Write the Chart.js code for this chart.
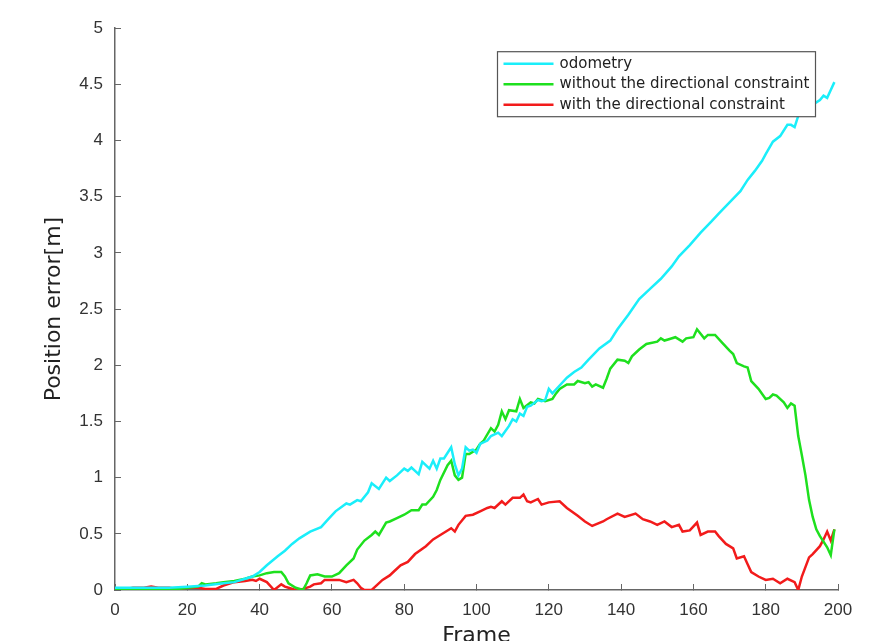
<!DOCTYPE html>
<html>
<head>
<meta charset="utf-8">
<script src="https://cdn.jsdelivr.net/npm/chart.js@4.4.0/dist/chart.umd.min.js"></script>
<style>
  body { margin: 0; background: #fff; }
  canvas { display: block; }
</style>
</head>
<body>
<canvas id="errChart" width="896" height="641"></canvas>
<script>
// values
const seriesNames = ['odometry', 'without the directional constraint', 'with the directional constraint'];

const odomFrames = [0, 5, 10, 15, 20, 25, 30, 33, 36, 38, 40, 42, 45, 47, 49, 51, 54, 57, 59, 61, 64, 65, 67, 68, 70, 71, 73, 75, 76, 78, 80, 81, 82, 83, 84, 85, 87, 88, 89, 90, 91, 93, 94, 95, 96, 97, 98, 99, 100, 101, 103, 104, 106, 107, 109, 110, 111, 112, 113, 114, 115, 117, 118, 119, 120, 121, 123, 125, 127, 129, 131, 134, 137, 139, 142, 145, 148, 151, 154, 156, 159, 162, 165, 167, 170, 173, 175, 177, 179, 180, 182, 184, 186, 187, 188, 189, 191, 193, 194, 195, 196, 197, 198, 199];
const odomErr = [0.02, 0.02, 0.02, 0.02, 0.03, 0.04, 0.06, 0.07, 0.10, 0.12, 0.16, 0.22, 0.30, 0.35, 0.41, 0.46, 0.52, 0.56, 0.63, 0.70, 0.77, 0.76, 0.80, 0.79, 0.87, 0.95, 0.90, 1.00, 0.97, 1.02, 1.08, 1.06, 1.09, 1.06, 1.03, 1.14, 1.08, 1.15, 1.08, 1.17, 1.17, 1.27, 1.12, 1.02, 1.08, 1.27, 1.24, 1.25, 1.22, 1.30, 1.33, 1.37, 1.40, 1.37, 1.46, 1.52, 1.50, 1.57, 1.55, 1.63, 1.64, 1.69, 1.68, 1.69, 1.79, 1.75, 1.82, 1.89, 1.94, 1.98, 2.05, 2.15, 2.22, 2.32, 2.45, 2.59, 2.68, 2.77, 2.88, 2.97, 3.07, 3.18, 3.28, 3.35, 3.45, 3.55, 3.65, 3.73, 3.82, 3.88, 3.99, 4.04, 4.14, 4.14, 4.12, 4.22, 4.28, 4.32, 4.34, 4.36, 4.40, 4.38, 4.45, 4.52];

const freeFrames = [0, 5, 10, 15, 20, 23, 24, 25, 28, 30, 33, 36, 38, 40, 42, 44, 46, 47, 48, 50, 52, 53, 54, 56, 58, 60, 62, 64, 66, 67, 69, 71, 72, 73, 75, 76, 78, 80, 81, 82, 84, 85, 86, 88, 89, 90, 92, 93, 94, 95, 96, 97, 98, 100, 101, 102, 104, 105, 106, 107, 108, 109, 111, 112, 113, 115, 116, 117, 119, 121, 122, 123, 125, 127, 128, 130, 131, 132, 133, 135, 136, 137, 139, 141, 142, 143, 145, 147, 150, 151, 152, 153, 155, 157, 158, 160, 161, 163, 164, 166, 168, 170, 171, 172, 174, 175, 176, 178, 180, 181, 182, 183, 185, 186, 187, 188, 189, 190, 191, 192, 193, 194, 195, 196, 197, 198, 199];
const freeErr = [0.01, 0.00, 0.01, 0.00, 0.02, 0.03, 0.06, 0.05, 0.06, 0.07, 0.08, 0.10, 0.12, 0.13, 0.15, 0.16, 0.16, 0.12, 0.06, 0.02, 0.00, 0.06, 0.13, 0.14, 0.12, 0.12, 0.15, 0.22, 0.28, 0.36, 0.44, 0.49, 0.52, 0.49, 0.60, 0.61, 0.64, 0.67, 0.69, 0.71, 0.71, 0.76, 0.76, 0.83, 0.89, 0.98, 1.11, 1.15, 1.02, 0.98, 1.00, 1.21, 1.21, 1.25, 1.30, 1.33, 1.44, 1.41, 1.47, 1.59, 1.52, 1.60, 1.59, 1.70, 1.62, 1.67, 1.66, 1.70, 1.68, 1.70, 1.75, 1.79, 1.83, 1.83, 1.86, 1.84, 1.85, 1.81, 1.83, 1.80, 1.88, 1.97, 2.05, 2.04, 2.02, 2.08, 2.14, 2.19, 2.21, 2.24, 2.22, 2.23, 2.25, 2.21, 2.24, 2.25, 2.32, 2.24, 2.27, 2.27, 2.20, 2.13, 2.10, 2.02, 1.99, 1.98, 1.86, 1.79, 1.70, 1.71, 1.74, 1.73, 1.67, 1.62, 1.66, 1.64, 1.37, 1.20, 1.02, 0.80, 0.65, 0.54, 0.48, 0.43, 0.38, 0.31, 0.54];

const dirFrames = [0, 3, 5, 8, 10, 12, 15, 17, 20, 23, 25, 28, 30, 33, 36, 38, 39, 40, 42, 44, 46, 47, 48, 50, 52, 54, 55, 57, 58, 60, 62, 64, 66, 67, 68, 69, 71, 72, 74, 76, 77, 79, 81, 83, 86, 88, 91, 93, 94, 95, 97, 99, 101, 103, 104, 105, 107, 108, 110, 112, 113, 114, 115, 117, 118, 120, 123, 125, 128, 130, 132, 135, 136, 139, 141, 144, 146, 148, 150, 152, 154, 156, 157, 159, 161, 162, 164, 166, 167, 169, 171, 172, 174, 175, 176, 178, 180, 182, 184, 186, 188, 189, 190, 192, 193, 195, 196, 197, 198, 199];
const dirErr = [0.01, 0.01, 0.02, 0.02, 0.03, 0.02, 0.02, 0.01, 0.02, 0.02, 0.01, 0.01, 0.04, 0.07, 0.08, 0.09, 0.08, 0.10, 0.07, 0.00, 0.05, 0.03, 0.02, 0.00, 0.01, 0.03, 0.05, 0.06, 0.09, 0.09, 0.09, 0.07, 0.09, 0.06, 0.02, 0.00, 0.00, 0.03, 0.09, 0.13, 0.16, 0.22, 0.25, 0.32, 0.39, 0.45, 0.51, 0.55, 0.52, 0.58, 0.66, 0.67, 0.70, 0.73, 0.74, 0.73, 0.79, 0.76, 0.82, 0.82, 0.85, 0.79, 0.78, 0.81, 0.76, 0.78, 0.79, 0.73, 0.66, 0.61, 0.57, 0.61, 0.63, 0.68, 0.65, 0.68, 0.63, 0.61, 0.58, 0.61, 0.56, 0.58, 0.52, 0.53, 0.60, 0.49, 0.52, 0.52, 0.48, 0.41, 0.37, 0.28, 0.30, 0.23, 0.16, 0.12, 0.09, 0.10, 0.06, 0.10, 0.07, 0.00, 0.12, 0.29, 0.32, 0.39, 0.45, 0.52, 0.44, 0.54];

const lineColors = ['#1AEEFA', '#1EE01E', '#F21B1B'];

function toPoints(frames, vals) {
  return frames.map((f, i) => ({ x: f, y: vals[i] }));
}

// MATLAB style legend box sitting on top of the lines
const boxLegend = {
  id: 'boxLegend',
  afterDatasetsDraw(chart) {
    const ctx = chart.ctx;
    const ca = chart.chartArea;
    const x0 = ca.left + 382.5, y0 = ca.top + 23.5, w = 318, h = 65;
    ctx.save();
    ctx.fillStyle = '#fff';
    ctx.fillRect(x0, y0, w, h);
    ctx.strokeStyle = '#555';
    ctx.lineWidth = 1.2;
    ctx.strokeRect(x0, y0, w, h);
    ctx.font = '15px "DejaVu Sans"';
    ctx.textBaseline = 'middle';
    ctx.textAlign = 'left';
    chart.data.datasets.forEach((ds, i) => {
      const y = y0 + 12 + i * 20.5;
      ctx.strokeStyle = ds.borderColor;
      ctx.lineWidth = 2.5;
      ctx.beginPath();
      ctx.moveTo(x0 + 6, y);
      ctx.lineTo(x0 + 56, y);
      ctx.stroke();
      ctx.fillStyle = '#222';
      ctx.fillText(ds.label, x0 + 62, y);
    });
    ctx.restore();
  }
};

const ctx = document.getElementById('errChart').getContext('2d');
new Chart(ctx, {
  type: 'line',
  data: {
    datasets: [
      { label: seriesNames[0], data: toPoints(odomFrames, odomErr), borderColor: lineColors[0] },
      { label: seriesNames[1], data: toPoints(freeFrames, freeErr), borderColor: lineColors[1] },
      { label: seriesNames[2], data: toPoints(dirFrames, dirErr), borderColor: lineColors[2] }
    ]
  },
  options: {
    responsive: false,
    animation: false,
    devicePixelRatio: 1,
    layout: { padding: { top: 18, right: 58, left: 0, bottom: 0 } },
    elements: {
      line: { borderWidth: 2.5, tension: 0, fill: false },
      point: { radius: 0 }
    },
    plugins: {
      legend: { display: false },
      tooltip: { enabled: false }
    },
    scales: {
      x: {
        type: 'linear',
        position: 'bottom',
        min: 0,
        max: 200,
        afterFit: s => { s.height = 51; },
        ticks: { stepSize: 20, padding: 16, color: '#333', font: { family: '"Liberation Sans", Arial', size: 17 } },
        grid: { drawOnChartArea: false, drawTicks: true, tickLength: -6, color: '#666' },
        border: { display: true, color: '#666', width: 1.5 },
        title: {
          display: true,
          text: 'Frame',
          color: '#222',
          font: { family: '"DejaVu Sans"', size: 22 },
          padding: { top: 0, bottom: -8 }
        }
      },
      y: {
        min: 0,
        max: 5,
        afterFit: s => { s.width = 115; },
        ticks: {
          stepSize: 0.5,
          padding: 18,
          color: '#333',
          font: { family: '"Liberation Sans", Arial', size: 17 },
          callback: v => String(v)
        },
        grid: { drawOnChartArea: false, drawTicks: true, tickLength: -6, color: '#666' },
        border: { display: true, color: '#666', width: 1.5 },
        title: {
          display: true,
          text: 'Position error[m]',
          color: '#222',
          font: { family: '"DejaVu Sans"', size: 22 },
          padding: { top: 41, bottom: 0 }
        }
      }
    }
  },
  plugins: [boxLegend]
});
</script>
</body>
</html>
